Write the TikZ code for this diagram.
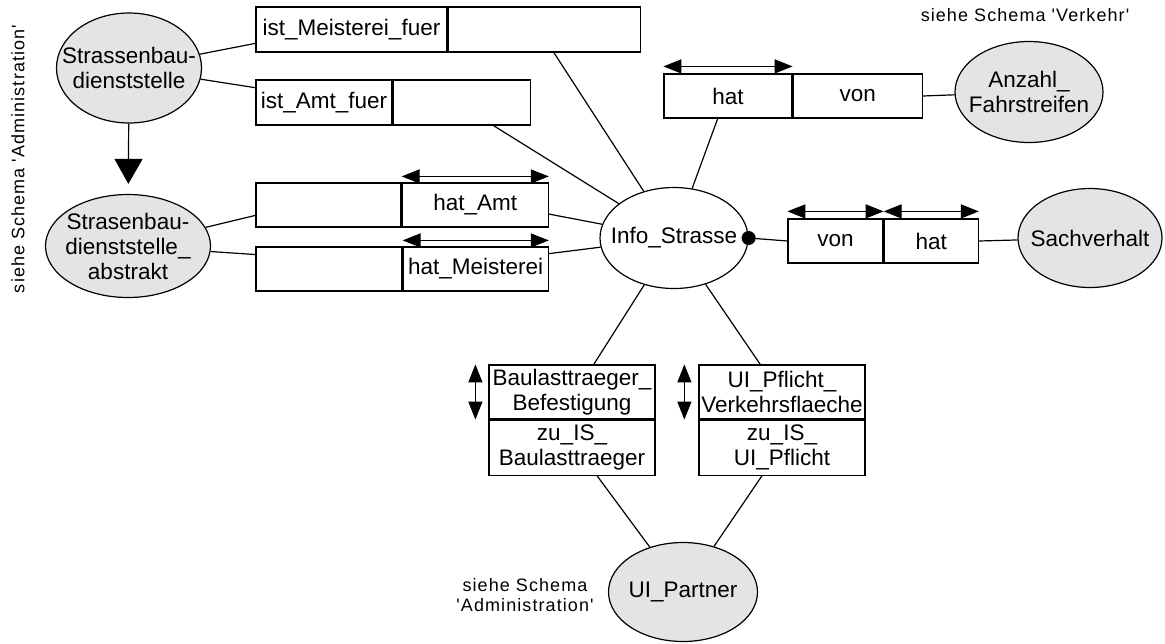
\documentclass[tikz,border=0pt]{standalone}
\usepackage{fontspec}
\setmainfont{Liberation Sans}
\newfontfamily\notefont[LetterSpace=6]{Liberation Sans}
\usepackage{tikz}
\usetikzlibrary{shapes.geometric,arrows.meta,positioning,calc}
\definecolor{entgray}{RGB}{228,228,228}

\begin{document}
\begin{tikzpicture}[x=0.5pt,y=-0.5pt,line width=0.6pt,
    font=\fontsize{11.25}{12.5}\selectfont,
    every node/.style={inner sep=0pt},
    entity/.style={ellipse,draw,fill=entgray,align=center,inner sep=-12pt},
    relship/.style={ellipse,draw,fill=white,align=center,inner sep=-12pt},
    cell/.style={rectangle,draw,minimum height=22.5pt,align=center},
    twin/.style={<->,>={Triangle[length=9pt,width=7pt]}},
    note/.style={font=\notefont\fontsize{9}{10}\selectfont,align=center}]
    \useasboundingbox (0,0) rectangle (1165,643);

    % entities
    \node[entity,minimum width=72.5pt,minimum height=55pt] (sbd) at (129,68) {Strassenbau-\\dienststelle};
    \node[entity,minimum width=82.5pt,minimum height=51.5pt] (sbda) at (128,246) {Strasenbau-\\dienststelle\_\\abstrakt};
    \node[relship,minimum width=74pt,minimum height=50.5pt] (info) at (674,238) {Info\_Strasse};
    \node[entity,minimum width=74pt,minimum height=50.5pt] (anz) at (1029,92) {Anzahl\_\\Fahrstreifen};
    \node[entity,minimum width=72pt,minimum height=49.5pt] (sach) at (1090,238) {Sachverhalt};
    \node[entity,minimum width=74.5pt,minimum height=49.5pt] (uip) at (683,592) {UI\_Partner};

    % relation boxes
    \node[cell,minimum width=95.5pt] (imf_a) at (351.5,29.5) {ist\_Meisterei\_fuer};
    \node[cell,minimum width=96pt,right=0pt of imf_a] (imf_b) {};
    \node[cell,minimum width=68pt] (iaf_a) at (324,102.5) {ist\_Amt\_fuer};
    \node[cell,minimum width=68.5pt,right=0pt of iaf_a] (iaf_b) {};
    \node[cell,minimum width=72.5pt,minimum height=22pt] (ha_a) at (328.5,205) {};
    \node[cell,minimum width=73pt,minimum height=22pt,right=0pt of ha_a] (ha_b) {hat\_Amt};
    \node[cell,minimum width=73pt,minimum height=22pt] (hm_a) at (329,269) {};
    \node[cell,minimum width=72.5pt,minimum height=22pt,right=0pt of hm_a] (hm_b) {hat\_Meisterei};
    \node[cell,minimum width=64pt,minimum height=22pt] (hv_a) at (728,96) {hat};
    \node[cell,minimum width=64.5pt,minimum height=22pt,right=0pt of hv_a] (hv_b) {von};
    \node[cell,minimum width=47.5pt,minimum height=22pt] (vh_a) at (835.5,241) {von};
    \node[cell,minimum width=47pt,minimum height=22pt,right=0pt of vh_a] (vh_b) {hat};
    \node[cell,minimum width=83pt,minimum height=27pt] (bl_a) at (572,392) {Baulasttraeger\_\\Befestigung};
    \node[cell,minimum width=83pt,minimum height=27.5pt,below=0pt of bl_a] (bl_b) {zu\_IS\_\\Baulasttraeger};
    \node[cell,minimum width=83pt,minimum height=27pt] (up_a) at (782,392) {UI\_Pflicht\_\\Verkehrsflaeche};
    \node[cell,minimum width=83pt,minimum height=27.5pt,below=0pt of up_a] (up_b) {zu\_IS\_\\UI\_Pflicht};

    % notes
    \node[note,rotate=90] (n_adm1) at (18,159) {siehe Schema 'Administration'};
    \node[note] (n_verk) at (1025,15) {siehe Schema 'Verkehr'};
    \node[note] (n_adm2) at (525,595) {siehe Schema\\'Administration'};

    % generalisation
    \draw[-{Triangle[length=12.5pt,width=14pt]},shorten >=5pt] (sbd) -- (sbda);

    % links
    \draw (sbd) -- ($(imf_a.north west)!0.8!(imf_a.south west)$);
    \draw (sbd) -- ($(iaf_a.north west)!0.18!(iaf_a.south west)$);
    \draw (sbda) -- ($(ha_a.north west)!0.73!(ha_a.south west)$);
    \draw (sbda) -- ($(hm_a.north west)!0.18!(hm_a.south west)$);
    \draw (info) -- ($(imf_b.south west)!0.55!(imf_b.south east)$);
    \draw (info) -- ($(iaf_b.south west)!0.73!(iaf_b.south east)$);
    \draw (info) -- ($(ha_b.north east)!0.7!(ha_b.south east)$);
    \draw (info) -- ($(hm_b.north east)!0.16!(hm_b.south east)$);
    \draw (info) -- ($(hv_a.south west)!0.42!(hv_a.south east)$);
    \draw (hv_b.east) -- (anz);
    \fill (info.east) circle (3.5pt);
    \draw (info.east) -- (vh_a.west);
    \draw (vh_b.east) -- (sach);
    \draw (info) -- ($(bl_a.north west)!0.63!(bl_a.north east)$);
    \draw (info) -- ($(up_a.north west)!0.37!(up_a.north east)$);
    \draw (uip) -- ($(bl_b.south west)!0.65!(bl_b.south east)$);
    \draw (uip) -- ($(up_b.south west)!0.38!(up_b.south east)$);

    % reading directions
    \draw[twin] ([yshift=3pt]ha_b.north west) -- ([yshift=3pt]ha_b.north east);
    \draw[twin] ([yshift=3pt]hm_b.north west) -- ([yshift=3pt]hm_b.north east);
    \draw[twin] ([yshift=3.5pt]hv_a.north west) -- ([yshift=3.5pt]hv_a.north east);
    \draw[twin] ([yshift=3.5pt]vh_a.north west) -- ([yshift=3.5pt]vh_a.north east);
    \draw[twin] ([yshift=3.5pt]vh_b.north west) -- ([yshift=3.5pt]vh_b.north east);
    \draw[twin] ([xshift=-6.5pt]bl_a.north west) -- ([xshift=-6.5pt]bl_a.south west);
    \draw[twin] ([xshift=-7pt]up_a.north west) -- ([xshift=-7pt]up_a.south west);
\end{tikzpicture}
\end{document}
